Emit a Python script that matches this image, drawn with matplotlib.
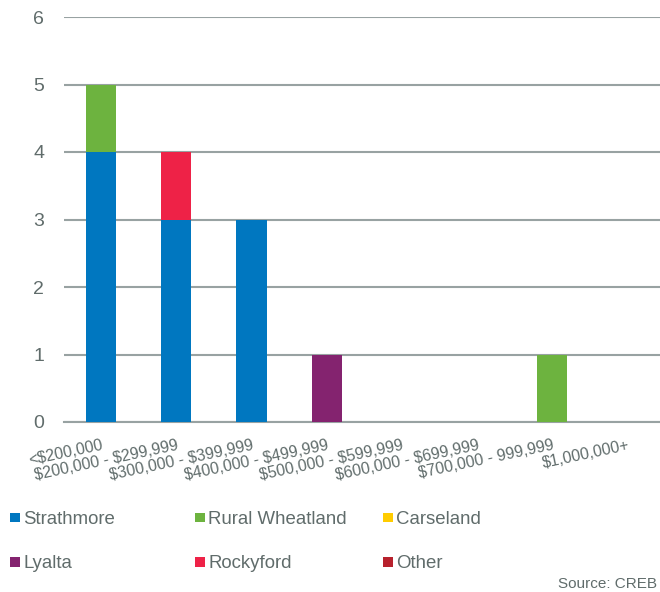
import matplotlib
matplotlib.use("Agg")
import matplotlib.pyplot as plt
from matplotlib.patches import Rectangle
import numpy as np

plt.rcParams['font.family'] = ['Liberation Sans', 'DejaVu Sans']

# Price bands and sales counts per community
price_bands = ["<$200,000", "$200,000 - $299,999", "$300,000 - $399,999",
               "$400,000 - $499,999", "$500,000 - $599,999", "$600,000 - $699,999",
               "$700,000 - 999,999", "$1,000,000+"]
series_names = ["Strathmore", "Rural Wheatland", "Carseland", "Lyalta", "Rockyford", "Other"]
strathmore = [4, 3, 3, 0, 0, 0, 0, 0]
rural_wheatland = [1, 0, 0, 0, 0, 0, 1, 0]
carseland = [0, 0, 0, 0, 0, 0, 0, 0]
lyalta = [0, 0, 0, 1, 0, 0, 0, 0]
rockyford = [0, 1, 0, 0, 0, 0, 0, 0]
other = [0, 0, 0, 0, 0, 0, 0, 0]
y_ticks = [0, 1, 2, 3, 4, 5, 6]
source_text = "Source: CREB"

colors = ["#0077c0", "#6db33f", "#ffcc00", "#84236f", "#ee2247", "#b7212d"]
text_color = "#606c6b"
grid_color = "#98a2a2"

series = [strathmore, rural_wheatland, carseland, lyalta, rockyford, other]

W, H = 660, 592
fig = plt.figure(figsize=(W / 100, H / 100), dpi=100)
ax = fig.add_axes([63.5 / W, 170 / H, 601.5 / W, 405 / H])

x = np.arange(len(price_bands))
bottom = np.zeros(len(price_bands))
for vals, col in zip(series, colors):
    vals = np.array(vals, dtype=float)
    ax.bar(x, vals, width=0.4, bottom=bottom, color=col, zorder=3, linewidth=0)
    bottom += vals

ax.set_xlim(-0.5, len(price_bands) - 0.5)
ax.set_ylim(0, 6)
ax.set_yticks(y_ticks)
ax.yaxis.grid(True, color=grid_color, linewidth=1.5, zorder=0)
ax.set_axisbelow(True)
for s in ["top", "right", "left"]:
    ax.spines[s].set_visible(False)
ax.spines["bottom"].set_color(grid_color)
ax.spines["bottom"].set_linewidth(1.5)

ax.tick_params(axis="y", length=0, pad=14, labelsize=14, labelcolor=text_color)
ax.tick_params(axis="x", length=0, pad=11.5, labelsize=11.4, labelcolor=text_color)
ax.set_xticks(x)
ax.set_xticklabels([s.replace("$", r"\$") for s in price_bands],
                   rotation=12, ha="right", rotation_mode="anchor")

# Legend laid out in rows of three (square centre y, text baseline y)
col_x = [10, 195, 383]
row_sq_y = [517.5, 562]
row_base_y = [524, 568]
sq = 9.5
for i, (name, col) in enumerate(zip(series_names, colors)):
    r, c = divmod(i, 3)
    px = col_x[c]
    fig.add_artist(Rectangle((px / W, 1 - (row_sq_y[r] + sq / 2) / H), sq / W, sq / H,
                             transform=fig.transFigure, color=col, linewidth=0))
    fig.text((px + sq + 4) / W, 1 - row_base_y[r] / H, name, fontsize=13.4,
             color=text_color, va="baseline", ha="left")

fig.text(657 / W, 1 - 588 / H, source_text, fontsize=11, color=text_color,
         va="baseline", ha="right")

fig.savefig("out.png", dpi=100)
